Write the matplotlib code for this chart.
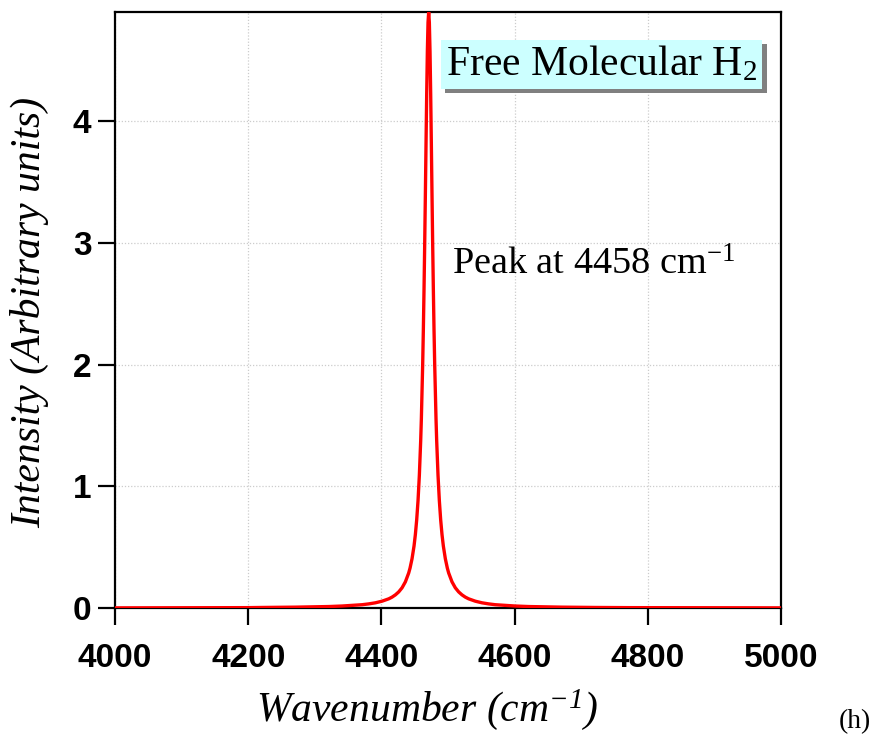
"""Free molecular H2 Raman-type peak, intensity vs wavenumber."""

import matplotlib

matplotlib.use("Agg")
import matplotlib.pyplot as plt
import matplotlib.patheffects as pe

# values
wavenumber = [4000, 4100, 4200, 4221, 4271, 4321, 4341, 4371, 4381, 4391,
              4401, 4411, 4416, 4421, 4426, 4431, 4436, 4441, 4443, 4446,
              4449, 4451, 4453, 4455, 4457, 4459, 4460, 4462, 4463, 4464,
              4465, 4466, 4467, 4468, 4469, 4470, 4471, 4472, 4473, 4474,
              4475, 4476, 4477, 4478, 4479, 4480, 4482, 4483, 4485, 4487,
              4489, 4491, 4493, 4496, 4499, 4501, 4506, 4511, 4516, 4521,
              4526, 4531, 4541, 4551, 4561, 4571, 4601, 4621, 4671, 4721,
              4771, 4900, 5000]
intensity = [0.001, 0.002, 0.003, 0.0044, 0.007, 0.012, 0.0163, 0.027, 0.0338, 0.0427,
             0.056, 0.0754, 0.0894, 0.108, 0.1324, 0.166, 0.2151, 0.288, 0.328, 0.405,
             0.510, 0.604, 0.725, 0.883, 1.093, 1.376, 1.555, 2.008, 2.292, 2.619,
             2.988, 3.392, 3.815, 4.224, 4.575, 4.814, 4.90, 4.814, 4.575, 4.224,
             3.815, 3.392, 2.988, 2.619, 2.292, 2.008, 1.555, 1.376, 1.093, 0.883,
             0.725, 0.604, 0.510, 0.405, 0.328, 0.288, 0.2151, 0.166, 0.1324, 0.108,
             0.0894, 0.0754, 0.056, 0.0427, 0.0338, 0.027, 0.0163, 0.012, 0.007, 0.0044,
             0.003, 0.002, 0.001]

x_ticks = [4000, 4200, 4400, 4600, 4800, 5000]
y_ticks = [0, 1, 2, 3, 4]

plt.rcParams["mathtext.fontset"] = "custom"
plt.rcParams["mathtext.rm"] = "Liberation Serif"
plt.rcParams["mathtext.it"] = "Liberation Serif:italic"
plt.rcParams["mathtext.default"] = "regular"

fig = plt.figure(figsize=(8.85, 7.4), dpi=100)
ax = fig.add_axes([115 / 885, 1 - 608 / 740, 666 / 885, 596 / 740])

ax.plot(wavenumber, intensity, color="#ff0000", lw=2.4, zorder=5,
        solid_joinstyle="round")

ax.set_xlim(4000, 5000)
ax.set_ylim(0, 4.9)
ax.set_xticks(x_ticks)
ax.set_yticks(y_ticks)
ax.grid(True, color="#cccccc", linestyle=(0, (1, 1.5)), lw=0.9)
ax.set_axisbelow(True)

for side in ("left", "right", "top", "bottom"):
    ax.spines[side].set_linewidth(1.6)
    ax.spines[side].set_color("black")

tick_font = {"family": ["Liberation Sans", "DejaVu Sans"], "weight": "bold", "size": 24}
ax.tick_params(axis="both", direction="out", length=12, width=1.6, colors="black")
ax.tick_params(axis="x", pad=13)
ax.tick_params(axis="y", pad=5)
ax.set_xticklabels([str(v) for v in x_ticks], fontdict=tick_font)
ax.set_yticklabels([str(v) for v in y_ticks], fontdict=tick_font)

serif = ["Liberation Serif", "DejaVu Serif"]
fig.text(427 / 885, 1 - 710 / 740, "Wavenumber (cm$^{\u22121}$)", family=serif,
         style="italic", size=30, ha="center", va="center")
fig.text(30 / 885, 1 - 312 / 740, "Intensity (Arbitrary units)", family=serif,
         style="italic", size=30, ha="center", va="center", rotation=90)

box = ax.text(0.731, 0.912, "Free Molecular H$_2$", transform=ax.transAxes,
              family=serif, size=30, ha="center", va="center", zorder=10,
              bbox=dict(boxstyle="square,pad=0.12", fc="#ccffff", ec="none"))
box.get_bbox_patch().set_path_effects([
    pe.SimplePatchShadow(offset=(3, -3), shadow_rgbFace="#808080", alpha=1.0),
    pe.Normal(),
])

ax.text(0.718, 0.575, "Peak at 4458 cm$^{\u22121}$", transform=ax.transAxes,
        family=serif, size=27.5, ha="center", va="center", zorder=10)

fig.text(855 / 885, 1 - 722 / 740, "(h)", family=serif, size=20, ha="center", va="center")

fig.savefig("out.png", dpi=100)
